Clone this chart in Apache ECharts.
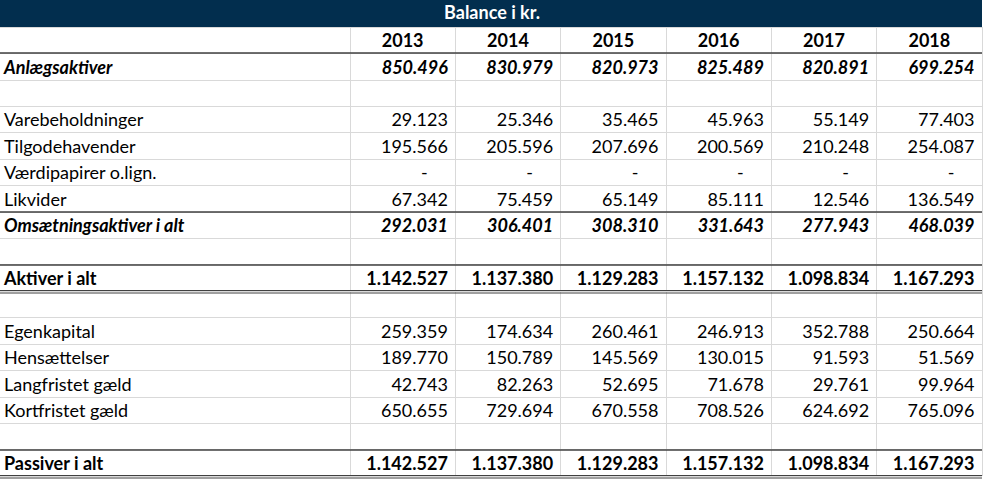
<!DOCTYPE html>
<html>
<head>
<meta charset="utf-8">
<script src="https://cdn.jsdelivr.net/npm/echarts@6/dist/echarts.min.js"></script>
<style>
  html, body { margin: 0; padding: 0; background: #fff; }
  #main { width: 984px; height: 482px; }
</style>
</head>
<body>
<div id="main"></div>
<script>
const tableTitle = 'Balance i kr.';
const years = ['2013', '2014', '2015', '2016', '2017', '2018'];

// first row is the year header row, '' = empty spacer row
const rowLabels = ['', 'Anlægsaktiver', '', 'Varebeholdninger', 'Tilgodehavender',
  'Værdipapirer o.lign.', 'Likvider', 'Omsætningsaktiver i alt', '', 'Aktiver i alt', '',
  'Egenkapital', 'Hensættelser', 'Langfristet gæld', 'Kortfristet gæld', '', 'Passiver i alt'];

const anlaegsaktiver = [850496, 830979, 820973, 825489, 820891, 699254];
const varebeholdninger = [29123, 25346, 35465, 45963, 55149, 77403];
const tilgodehavender = [195566, 205596, 207696, 200569, 210248, 254087];
const vaerdipapirer = [0, 0, 0, 0, 0, 0];
const likvider = [67342, 75459, 65149, 85111, 12546, 136549];
const omsaetningsaktiver = [292031, 306401, 308310, 331643, 277943, 468039];
const aktiverIAlt = [1142527, 1137380, 1129283, 1157132, 1098834, 1167293];
const egenkapital = [259359, 174634, 260461, 246913, 352788, 250664];
const hensaettelser = [189770, 150789, 145569, 130015, 91593, 51569];
const langfristet = [42743, 82263, 52695, 71678, 29761, 99964];
const kortfristet = [650655, 729694, 670558, 708526, 624692, 765096];
const passiverIAlt = [1142527, 1137380, 1129283, 1157132, 1098834, 1167293];

const rowValues = [null, anlaegsaktiver, null, varebeholdninger, tilgodehavender,
  vaerdipapirer, likvider, omsaetningsaktiver, null, aktiverIAlt, null,
  egenkapital, hensaettelser, langfristet, kortfristet, null, passiverIAlt];

// styling per row
const rowFont = ['b', 'bi', 'n', 'n', 'n', 'n', 'n', 'bi', 'n', 'b', 'n', 'n', 'n', 'n', 'n', 'n', 'b'];
const darkRuleAfter = [0, 6, 8, 15];
const doubleRuleAfter = [9, 16];

const FONT = 'Lato';
const SIZE = 18;
const navy = '#022e4e';
const dark = '#404040';
const light = '#d9d9d9';

function fmt(n) {
  if (n === 0) return '-';
  return String(n).replace(/\B(?=(\d{3})+(?!\d))/g, '.');
}

function fontFor(row) {
  const f = rowFont[row];
  return {
    fontWeight: f === 'n' ? 'normal' : 'bold',
    fontStyle: f === 'bi' ? 'italic' : 'normal'
  };
}

const rowIdx = rowLabels.map((_, i) => i);

const labelData = rowIdx.filter(i => rowLabels[i]).map(i => [0, i]);
const yearData = years.map((y, i) => [i, 0]);
const cellData = [];
rowValues.forEach((vals, r) => {
  if (!vals) return;
  vals.forEach((v, c) => cellData.push([c, r, v]));
});
const ruleData = darkRuleAfter.map(r => [0, r, 1]).concat(doubleRuleAfter.map(r => [0, r, 2]));

function renderRule(params, api) {
  const row = api.value(1);
  const c = api.coord([0, row]);
  const s = api.size([1, 1]);
  const y = Math.round(c[1] + s[1] / 2);
  const x1 = params.coordSys.x;
  const x2 = params.coordSys.x + params.coordSys.width;
  if (api.value(2) === 1) {
    return { type: 'line', shape: { x1, y1: y, x2, y2: y }, style: { stroke: dark, lineWidth: 1.5 } };
  }
  return {
    type: 'group',
    children: [
      { type: 'line', shape: { x1, y1: y - 0.5, x2, y2: y - 0.5 }, style: { stroke: dark, lineWidth: 1 } },
      { type: 'line', shape: { x1, y1: y + 2, x2, y2: y + 2 }, style: { stroke: dark, lineWidth: 1 } }
    ]
  };
}

function hiddenAxis(extra) {
  return Object.assign({
    axisLine: { show: false },
    axisTick: { show: false },
    axisLabel: { show: false },
    splitLine: { show: true, interval: 0, lineStyle: { color: light, width: 1 } }
  }, extra);
}

const chart = echarts.init(document.getElementById('main'), null, { renderer: 'svg' });

chart.setOption({
  animation: false,
  graphic: [{
    type: 'rect',
    shape: { x: 0, y: 0, width: 982, height: 27 },
    style: { fill: navy },
    z: 10
  }],
  title: {
    text: tableTitle,
    left: 'center',
    top: 1,
    padding: [2, 0],
    textStyle: { color: '#fff', fontFamily: FONT, fontSize: SIZE, fontWeight: 'bold' },
    z: 20
  },
  grid: [
    { left: 0, width: 350, top: 27, height: 449 },
    { left: 350, width: 632, top: 27, height: 449 }
  ],
  xAxis: [
    hiddenAxis({ gridIndex: 0, type: 'category', data: ['label'], splitLine: { show: false } }),
    hiddenAxis({ gridIndex: 1, type: 'category', data: years })
  ],
  yAxis: [
    hiddenAxis({ gridIndex: 0, type: 'category', data: rowIdx, inverse: true }),
    hiddenAxis({ gridIndex: 1, type: 'category', data: rowIdx, inverse: true })
  ],
  series: [
    {
      type: 'custom', xAxisIndex: 0, yAxisIndex: 0, data: labelData,
      renderItem(params, api) {
        const row = api.value(1);
        const c = api.coord([0, row]);
        const s = api.size([1, 1]);
        return {
          type: 'text',
          style: Object.assign({
            x: c[0] - s[0] / 2 + 4, y: c[1],
            text: rowLabels[row], fill: '#000',
            fontFamily: FONT, fontSize: SIZE,
            align: 'left', verticalAlign: 'middle'
          }, fontFor(row))
        };
      }
    },
    {
      type: 'custom', xAxisIndex: 1, yAxisIndex: 1, data: yearData,
      renderItem(params, api) {
        const col = api.value(0);
        const c = api.coord([col, 0]);
        return {
          type: 'text',
          style: {
            x: c[0], y: c[1], text: years[col], fill: '#000',
            fontFamily: FONT, fontSize: SIZE, fontWeight: 'bold',
            align: 'center', verticalAlign: 'middle'
          }
        };
      }
    },
    {
      type: 'custom', xAxisIndex: 1, yAxisIndex: 1, data: cellData,
      renderItem(params, api) {
        const col = api.value(0);
        const row = api.value(1);
        const v = api.value(2);
        const c = api.coord([col, row]);
        const s = api.size([1, 1]);
        const right = c[0] + s[0] / 2;
        const isDash = v === 0;
        return {
          type: 'text',
          style: Object.assign({
            x: isDash ? right - 31 : right - 7.5, y: c[1],
            text: fmt(v), fill: '#000',
            fontFamily: FONT, fontSize: SIZE,
            align: isDash ? 'center' : 'right', verticalAlign: 'middle'
          }, fontFor(row))
        };
      }
    },
    { type: 'custom', xAxisIndex: 0, yAxisIndex: 0, data: ruleData, renderItem: renderRule, z: 5 },
    { type: 'custom', xAxisIndex: 1, yAxisIndex: 1, data: ruleData, renderItem: renderRule, z: 5 }
  ]
});
</script>
</body>
</html>
